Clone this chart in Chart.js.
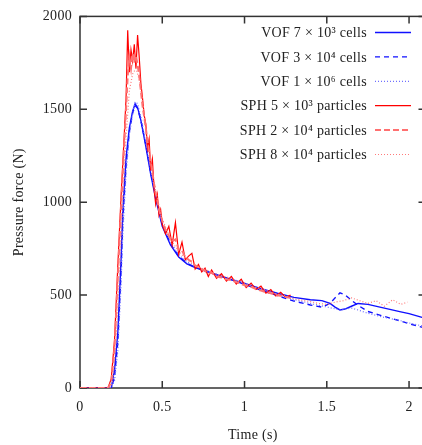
<!DOCTYPE html>
<html>
<head>
<meta charset="utf-8">
<script src="https://cdn.jsdelivr.net/npm/chart.js@4.4.0/dist/chart.umd.min.js"></script>
<style>
  html, body { margin: 0; padding: 0; background: #fff; overflow: hidden; }
  #chart { display: block; }
</style>
</head>
<body>
<canvas id="chart" width="430" height="445"></canvas>
<script>
// tick labels
const xTicks = [0, 0.5, 1, 1.5, 2];
const yTicks = [0, 500, 1000, 1500, 2000];

// VOF runs (time in s, pressure force in N)
const vofTime = [0, 0.19, 0.21, 0.23, 0.25, 0.26, 0.28, 0.3, 0.32, 0.335, 0.35, 0.37, 0.4, 0.43, 0.46, 0.5, 0.55, 0.6, 0.65, 0.7, 0.8, 0.9, 1.0, 1.1, 1.2, 1.3, 1.4, 1.47, 1.52, 1.55, 1.58, 1.61, 1.65, 1.69, 1.75, 1.85, 1.95, 2.0, 2.1];
const vof7e3 = [0, 0, 100, 300, 700, 950, 1240, 1400, 1490, 1530, 1510, 1440, 1300, 1150, 1020, 870, 770, 705, 668, 648, 618, 590, 563, 535, 510, 488, 475, 470, 455, 435, 420, 425, 440, 455, 450, 430, 410, 400, 375];
const vof3e4 = [0, 0, 60, 250, 640, 900, 1200, 1380, 1480, 1520, 1505, 1440, 1310, 1160, 1030, 880, 775, 710, 672, 650, 618, 588, 558, 527, 497, 468, 447, 435, 455, 485, 512, 502, 472, 445, 412, 385, 360, 346, 322];
const vof1e6 = [0, 0, 40, 200, 560, 820, 1150, 1360, 1480, 1540, 1530, 1460, 1320, 1170, 1040, 890, 785, 718, 680, 655, 622, 592, 565, 533, 503, 476, 455, 442, 432, 426, 420, 424, 430, 420, 402, 380, 362, 350, 330];

// SPH runs
const sphTime = [0, 0.17, 0.19, 0.21, 0.23, 0.25, 0.27, 0.28, 0.29, 0.3, 0.31, 0.32, 0.33, 0.34, 0.35, 0.36, 0.37, 0.38, 0.39, 0.4, 0.41, 0.42, 0.43, 0.44, 0.45, 0.46, 0.47, 0.48, 0.49, 0.5, 0.52, 0.54, 0.56, 0.58, 0.6, 0.62, 0.64, 0.66, 0.68, 0.7, 0.72, 0.74, 0.76, 0.78, 0.8, 0.83, 0.86, 0.89, 0.92, 0.95, 0.98, 1.01, 1.04, 1.07, 1.1, 1.13, 1.16, 1.19, 1.22, 1.25, 1.28];
const sph5e3 = [0, 0, 50, 260, 660, 1040, 1380, 1560, 1926, 1700, 1820, 1760, 1850, 1720, 1900, 1780, 1640, 1560, 1470, 1420, 1290, 1340, 1170, 1230, 1070, 990, 1040, 930, 960, 880, 830, 870, 770, 890, 720, 785, 690, 710, 725, 640, 665, 625, 645, 600, 635, 590, 615, 575, 600, 560, 585, 540, 565, 530, 548, 510, 530, 495, 515, 488, 500];
const sph2e4 = [0, 0, 30, 220, 600, 980, 1330, 1500, 1680, 1780, 1720, 1800, 1750, 1790, 1740, 1680, 1600, 1520, 1460, 1400, 1330, 1270, 1220, 1160, 1100, 1050, 1010, 960, 930, 900, 850, 820, 790, 800, 745, 740, 705, 690, 680, 660, 650, 640, 630, 615, 620, 600, 595, 585, 580, 570, 560, 550, 545, 532, 525, 515, 510, 500, 497, 490, 485];
const sph8Time = [0, 0.18, 0.2, 0.22, 0.24, 0.26, 0.28, 0.3, 0.32, 0.34, 0.36, 0.38, 0.4, 0.43, 0.46, 0.5, 0.55, 0.6, 0.65, 0.7, 0.75, 0.8, 0.85, 0.9, 0.95, 1.0, 1.05, 1.1, 1.15, 1.2, 1.25, 1.3, 1.35, 1.4, 1.45, 1.5, 1.55, 1.6, 1.65, 1.7, 1.75, 1.8, 1.85, 1.9, 1.95, 1.99];
const sph8e4 = [0, 0, 40, 260, 620, 1000, 1350, 1600, 1690, 1720, 1660, 1540, 1390, 1210, 1060, 910, 800, 735, 690, 660, 640, 625, 605, 595, 575, 565, 545, 535, 520, 505, 495, 480, 472, 465, 455, 450, 462, 470, 485, 470, 455, 470, 440, 475, 450, 462];

const FONT = '"Liberation Serif", "DejaVu Serif", serif';
const FONT_SIZE = 14;
const TEXT_COLOR = "#222";

function points(times, values) {
  return times.map((t, i) => ({ x: t, y: values[i] }));
}

// a bit of tracking so the serif text is as wide as the LaTeX labels
const spacingPlugin = {
  id: "spacing",
  beforeLayout(chart) {
    chart.ctx.letterSpacing = "0.3px";
  },
  beforeDraw(chart) {
    chart.ctx.letterSpacing = "0.3px";
  },
};

// frame with inward ticks, drawn under the curves
const framePlugin = {
  id: "frame",
  beforeDatasetsDraw(chart) {
    const { ctx, chartArea: a, scales } = chart;
    ctx.save();
    ctx.strokeStyle = "#333";
    ctx.lineWidth = 1.5;
    ctx.strokeRect(a.left, a.top, a.right - a.left, a.bottom - a.top);
    ctx.beginPath();
    xTicks.forEach((v) => {
      const px = scales.x.getPixelForValue(v);
      ctx.moveTo(px, a.bottom);
      ctx.lineTo(px, a.bottom - 7);
      ctx.moveTo(px, a.top);
      ctx.lineTo(px, a.top + 7);
    });
    yTicks.forEach((v) => {
      const py = scales.y.getPixelForValue(v);
      ctx.moveTo(a.left, py);
      ctx.lineTo(a.left + 7, py);
      ctx.moveTo(a.right, py);
      ctx.lineTo(a.right - 7, py);
    });
    ctx.stroke();
    ctx.restore();
  },
};

// gnuplot-like key: text right aligned, sample on the right
const keyPlugin = {
  id: "key",
  afterDraw(chart) {
    const ctx = chart.ctx;
    ctx.save();
    ctx.font = FONT_SIZE + "px " + FONT;
    ctx.textAlign = "right";
    ctx.textBaseline = "middle";
    chart.data.datasets.forEach((ds, i) => {
      const y = 32.5 + i * 24.4;
      ctx.fillStyle = TEXT_COLOR;
      ctx.fillText(ds.label, 367, y + 1);
      ctx.strokeStyle = ds.borderColor;
      ctx.lineWidth = ds.borderWidth;
      ctx.setLineDash(ds.borderDash || []);
      ctx.beginPath();
      ctx.moveTo(375, y);
      ctx.lineTo(411, y);
      ctx.stroke();
    });
    ctx.restore();
  },
};

const datasets = [
  { label: "VOF 7 × 10³ cells", data: points(vofTime, vof7e3), borderColor: "#1010ff", borderWidth: 1.4 },
  { label: "VOF 3 × 10⁴ cells", data: points(vofTime, vof3e4), borderColor: "#1010ff", borderWidth: 1.4, borderDash: [5, 4] },
  { label: "VOF 1 × 10⁶ cells", data: points(vofTime, vof1e6), borderColor: "#7070ff", borderWidth: 1.2, borderDash: [1, 2] },
  { label: "SPH 5 × 10³ particles", data: points(sphTime, sph5e3), borderColor: "#ff0000", borderWidth: 1.2 },
  { label: "SPH 2 × 10⁴ particles", data: points(sphTime, sph2e4), borderColor: "#ff7070", borderWidth: 2, borderDash: [6, 3] },
  { label: "SPH 8 × 10⁴ particles", data: points(sph8Time, sph8e4), borderColor: "#ff7a7a", borderWidth: 1.2, borderDash: [1, 2] },
];
datasets.forEach((ds, i) => {
  ds.order = datasets.length - i;
  ds.pointRadius = 0;
  ds.fill = false;
  ds.tension = 0;
});

const axisFont = { family: FONT, size: FONT_SIZE };

const config = {
  type: "line",
  data: { datasets: datasets },
  options: {
    responsive: false,
    animation: false,
    devicePixelRatio: 1,
    layout: { padding: { top: 11, right: 4.5, left: 0, bottom: 0 } },
    plugins: { legend: { display: false }, tooltip: { enabled: false } },
    scales: {
      x: {
        type: "linear",
        min: 0,
        max: 2.1,
        afterBuildTicks: (s) => { s.ticks = xTicks.map((v) => ({ value: v })); },
        afterFit: (s) => { s.height = 57; },
        grid: { display: false, drawTicks: false },
        border: { display: false },
        ticks: { padding: 11, color: TEXT_COLOR, font: axisFont, maxRotation: 0, autoSkip: false, callback: (v) => String(v) },
        title: { display: true, text: "Time (s)", color: TEXT_COLOR, font: axisFont, padding: { top: 0, bottom: 1 } },
      },
      y: {
        type: "linear",
        min: 0,
        max: 2000,
        afterBuildTicks: (s) => { s.ticks = yTicks.map((v) => ({ value: v })); },
        afterFit: (s) => { s.width = 80; },
        grid: { display: false, drawTicks: false },
        border: { display: false },
        ticks: { padding: 8, color: TEXT_COLOR, font: axisFont, callback: (v) => String(v) },
        title: { display: true, text: "Pressure force (N)", color: TEXT_COLOR, font: axisFont, padding: { top: 11, bottom: 0 } },
      },
    },
  },
  plugins: [spacingPlugin, framePlugin, keyPlugin],
};

const myChart = new Chart(document.querySelector("#chart"), config);
</script>
</body>
</html>
